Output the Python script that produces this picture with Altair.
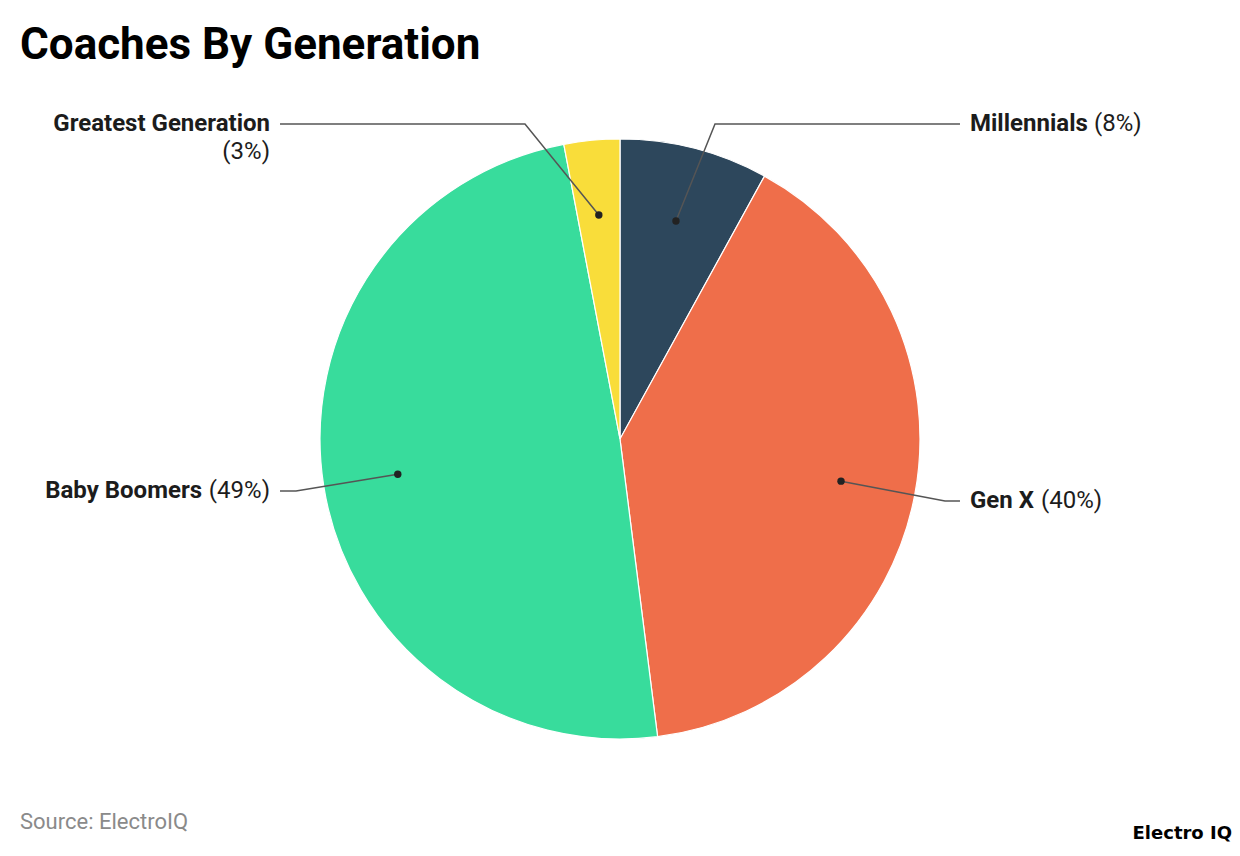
import math
import altair as alt
import pandas as pd

# ---------------- data ----------------
categories = ["Millennials", "Gen X", "Baby Boomers", "Greatest Generation"]
shares = [8, 40, 49, 3]
colors = ["#2d475c", "#ef6e4a", "#38dc9c", "#f9dd3a"]
value_labels = ["(8%)", "(40%)", "(49%)", "(3%)"]

TITLE = "Coaches By Generation"
SOURCE = "Source: ElectroIQ"
BRAND = "Electro IQ"

# ---------------- layout (unit = one pie radius) ----------------
W, H = 1224, 760          # plot area
CX, CY, R = 612, 351, 300  # pie centre / radius in px
DOT_R = 0.75
side = ["right", "right", "left", "left"]
label_y = [1.05, -0.2067, -0.1733, 1.05]
value_y = [1.05, -0.2067, -0.1733, 0.9567]
elbow_x = [0.3167, 1.0833, -1.08, -0.3167]
end_x = [1.1333, 1.1333, -1.1333, -1.1333]
name_x = [1.1667, 1.1667, -1.3933, -1.1667]
value_x = [1.58, 1.4033, -1.1667, -1.1667]

total = sum(shares)
rows, line_rows = [], []
cum = 0
for i, (c, v) in enumerate(zip(categories, shares)):
    mid = (cum + v / 2) / total * 2 * math.pi
    cum += v
    dx, dy = DOT_R * math.sin(mid), DOT_R * math.cos(mid)
    rows.append(dict(cat=c, share=v, order=i, side=side[i], dx=dx, dy=dy,
                     ny=label_y[i], vy=value_y[i], nx=name_x[i], vx=value_x[i],
                     vlab=value_labels[i]))
    for k, (px, py) in enumerate([(dx, dy), (elbow_x[i], label_y[i]), (end_x[i], label_y[i])]):
        line_rows.append(dict(cat=c, k=k, x=px, y=py))

df = pd.DataFrame(rows)
lines = pd.DataFrame(line_rows)

xs = alt.Scale(domain=[-CX / R, (W - CX) / R], nice=False, zero=False)
ys = alt.Scale(domain=[-(H - CY) / R, CY / R], nice=False, zero=False)
FONT = "Roboto"

pie = alt.Chart(df).mark_arc(outerRadius=R, stroke="white", strokeWidth=1.2).encode(
    theta=alt.Theta("share:Q", stack=True),
    color=alt.Color("cat:N", scale=alt.Scale(domain=categories, range=colors), legend=None),
    order=alt.Order("order:Q"),
    x=alt.value(CX), y=alt.value(CY),
)

leader = alt.Chart(lines).mark_line(color="#555555", strokeWidth=1.5).encode(
    x=alt.X("x:Q", scale=xs, axis=None),
    y=alt.Y("y:Q", scale=ys, axis=None),
    detail="cat:N",
    order="k:Q",
)

dots = alt.Chart(df).mark_point(filled=True, size=55, color="#222222", opacity=1).encode(
    x=alt.X("dx:Q", scale=xs, axis=None),
    y=alt.Y("dy:Q", scale=ys, axis=None),
)

def text_layer(field_x, field_y, text, align, weight, s):
    return alt.Chart(df).transform_filter(alt.datum.side == s).mark_text(
        align=align, baseline="middle", font=FONT, fontSize=24,
        fontWeight=weight, color="#1c1c1c",
    ).encode(
        x=alt.X(f"{field_x}:Q", scale=xs, axis=None),
        y=alt.Y(f"{field_y}:Q", scale=ys, axis=None),
        text=f"{text}:N",
    )

names_r = text_layer("nx", "ny", "cat", "left", "bold", "right")
names_l = text_layer("nx", "ny", "cat", "right", "bold", "left")
vals_r = text_layer("vx", "vy", "vlab", "left", "normal", "right")
vals_l = text_layer("vx", "vy", "vlab", "right", "normal", "left")

source = alt.Chart(pd.DataFrame({"t": [SOURCE]})).mark_text(
    align="left", baseline="alphabetic", font=FONT, fontSize=22, color="#8a8a8a"
).encode(x=alt.value(12), y=alt.value(741), text="t:N")

brand = alt.Chart(pd.DataFrame({"t": [BRAND]})).mark_text(
    align="right", baseline="alphabetic", font="DejaVu Sans", fontSize=18, fontWeight="bold",
    color="#000000"
).encode(x=alt.value(1224), y=alt.value(751), text="t:N")

chart = alt.layer(pie, leader, dots, names_r, names_l, vals_r, vals_l, source, brand).properties(
    width=W, height=H,
    autosize=alt.AutoSizeParams(type="none"),
    padding={"left": 0, "right": 0, "top": 80, "bottom": 0},
    title=alt.TitleParams(TITLE, anchor="start", font=FONT, fontSize=44, fontWeight="bold",
                          color="#000000", dx=12, offset=20),
).configure_view(stroke=None)

chart.save("out.html", embed_options={"renderer": "svg", "actions": False})
